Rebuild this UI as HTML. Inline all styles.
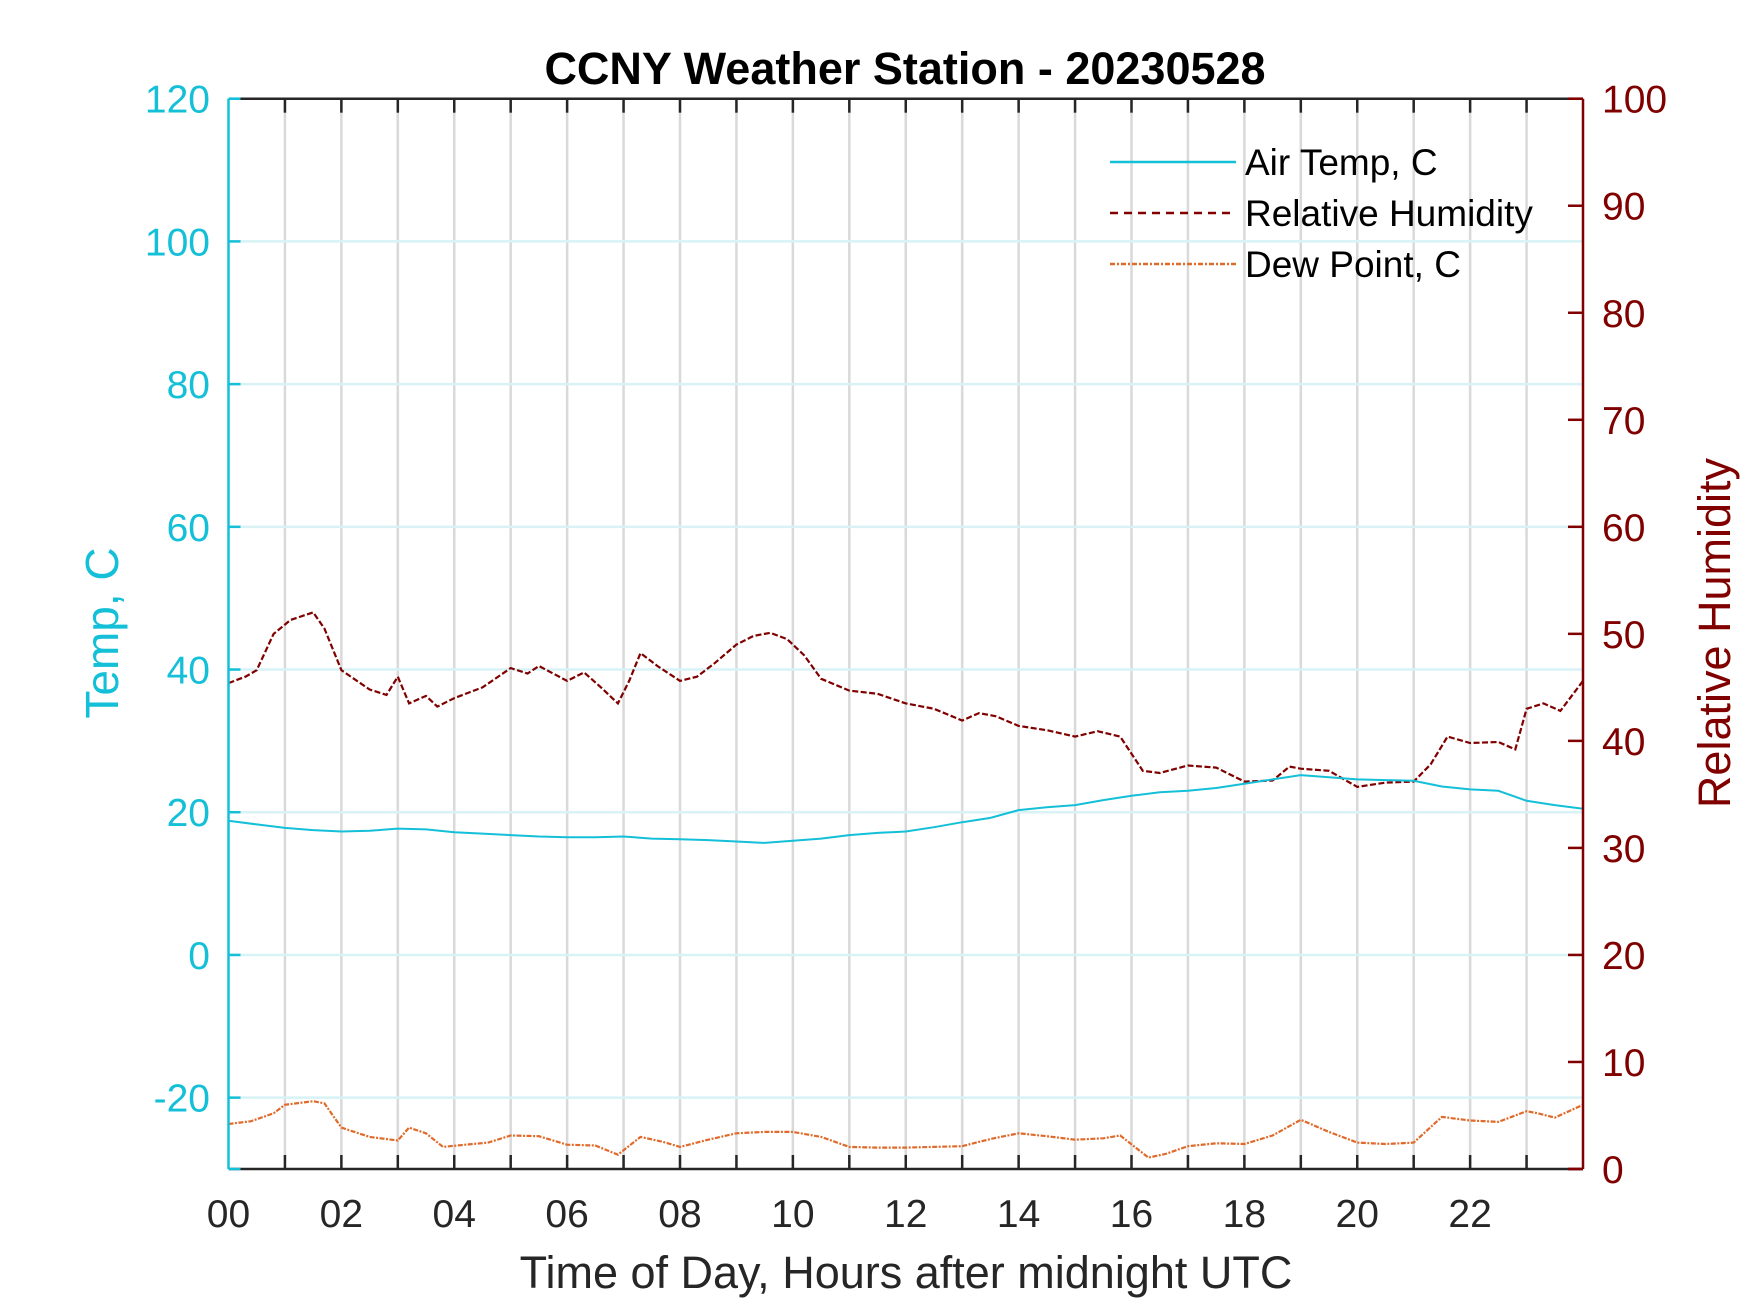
<!DOCTYPE html>
<html><head><meta charset="utf-8"><style>
html,body{margin:0;padding:0;background:#fff;}
svg{display:block;font-family:"Liberation Sans",Arial,sans-serif;}
</style></head><body>
<svg id="chart" width="1750" height="1313" viewBox="0 0 1750 1313">
<rect width="1750" height="1313" fill="#fff"/>
<g id="grid"></g>
<g id="series"></g>
<g id="axes"></g>
<text x="905" y="84" text-anchor="middle" font-size="45" font-weight="bold" fill="#000">CCNY Weather Station - 20230528</text>
<text x="906" y="1288" text-anchor="middle" font-size="45" fill="#262626">Time of Day, Hours after midnight UTC</text>
<text transform="translate(118,633) rotate(-90)" text-anchor="middle" font-size="46" fill="#14bfd8">Temp, C</text>
<text transform="translate(1730,633) rotate(-90)" text-anchor="middle" font-size="45" fill="#800000">Relative Humidity</text>
<g>
<line x1="1110" y1="162" x2="1236" y2="162" stroke="#14bfd8" stroke-width="2.5"/>
<text x="1245" y="175" font-size="37" fill="#000">Air Temp, C</text>
<line x1="1110" y1="213" x2="1236" y2="213" stroke="#800000" stroke-width="2.5" stroke-dasharray="8,6"/>
<text x="1245" y="226" font-size="37" fill="#000">Relative Humidity</text>
<line x1="1110" y1="264" x2="1236" y2="264" stroke="#e06a2a" stroke-width="2.5" stroke-dasharray="5,2,2,2"/>
<text x="1245" y="277" font-size="37" fill="#000">Dew Point, C</text>
</g>
</svg>
<script>
const tempHours = [0,0.5,1,1.5,2,2.5,3,3.5,4,4.5,5,5.5,6,6.5,7,7.5,8,8.5,9,9.5,10,10.5,11,11.5,12,12.5,13,13.5,14,14.5,15,15.5,16,16.5,17,17.5,18,18.5,19,19.5,20,20.5,21,21.5,22,22.5,23,23.5,24];
const airTemp = [18.8,18.3,17.8,17.5,17.3,17.4,17.7,17.6,17.2,17.0,16.8,16.6,16.5,16.5,16.6,16.3,16.2,16.1,15.9,15.7,16.0,16.3,16.8,17.1,17.3,17.9,18.6,19.2,20.3,20.7,21.0,21.7,22.3,22.8,23.0,23.4,24.0,24.6,25.2,24.9,24.6,24.5,24.4,23.6,23.2,23.0,21.6,21.0,20.5];
const rhHours = [0,0.3,0.5,0.8,1.1,1.5,1.7,2,2.5,2.8,3,3.2,3.5,3.7,4,4.5,5,5.3,5.5,6,6.3,6.6,6.9,7.1,7.3,7.6,8,8.3,8.6,9,9.3,9.6,9.9,10.2,10.5,11,11.5,12,12.5,13,13.3,13.6,14,14.5,15,15.4,15.8,16.2,16.5,17,17.5,18,18.5,18.8,19,19.5,19.8,20,20.5,21,21.3,21.6,22,22.5,22.8,23,23.3,23.6,24];
const relHumidity = [45.4,46.0,46.6,50.0,51.3,52.0,50.5,46.6,44.8,44.3,46.0,43.5,44.2,43.2,44.0,45.0,46.8,46.3,47.0,45.6,46.4,45.0,43.5,45.6,48.2,47.0,45.6,46.0,47.2,49.0,49.8,50.1,49.5,48.0,45.8,44.7,44.4,43.5,43.0,41.9,42.6,42.3,41.4,41.0,40.4,40.9,40.4,37.2,37.0,37.7,37.5,36.2,36.3,37.6,37.4,37.2,36.3,35.7,36.1,36.2,37.8,40.4,39.8,39.9,39.2,43.0,43.5,42.8,45.6];
const dewHours = [0,0.4,0.8,1,1.5,1.7,2,2.5,3,3.2,3.5,3.8,4.2,4.6,5,5.5,6,6.5,6.9,7.3,7.7,8,8.5,9,9.5,10,10.5,11,11.5,12,12.5,13,13.5,14,14.5,15,15.5,15.8,16.3,16.6,17,17.5,18,18.5,19,19.5,20,20.5,21,21.5,22,22.5,23,23.2,23.5,24];
const dewPoint = [-23.7,-23.3,-22.2,-21.0,-20.5,-20.8,-24.2,-25.5,-26.0,-24.2,-25.0,-26.9,-26.6,-26.3,-25.3,-25.4,-26.6,-26.7,-28.0,-25.5,-26.2,-26.9,-25.9,-25.0,-24.8,-24.8,-25.5,-26.9,-27.0,-27.0,-26.9,-26.8,-25.8,-25.0,-25.4,-25.9,-25.7,-25.3,-28.4,-27.9,-26.8,-26.4,-26.5,-25.3,-23.1,-24.8,-26.3,-26.5,-26.3,-22.7,-23.2,-23.4,-21.9,-22.2,-22.8,-21.0];
const xTickLabels = ["00","02","04","06","08","10","12","14","16","18","20","22"];
const leftTicks = [-20,0,20,40,60,80,100,120];
const rightTicks = [0,10,20,30,40,50,60,70,80,90,100];

const L=228.5,R=1583,T=98.7,B=1169;
const xS=h=>L+(R-L)*h/24;
const yT=v=>T+(120-v)*(B-T)/150;
const yR=v=>B-(B-T)*v/100;
const NS="http://www.w3.org/2000/svg";
function mk(parent,tag,attrs){const e=document.createElementNS(NS,tag);for(const k in attrs)e.setAttribute(k,attrs[k]);document.getElementById(parent).appendChild(e);return e;}

for(let h=1;h<24;h++){
  const g=mk('grid','line',{x1:xS(h),x2:xS(h),y1:T,y2:B,stroke:'#d9d9d9','stroke-width':2.5});
  
  
}
leftTicks.forEach(v=>{
  if(v===120)return;
  const g=mk('grid','line',{x1:L,x2:R,y1:yT(v),y2:yT(v),stroke:'#d8f2f6','stroke-width':2.5});
  
  
});

function poly(xs,ys,xf,yf,color,dash,name,w){
  const pts=xs.map((x,i)=>xf(x).toFixed(1)+','+yf(ys[i]).toFixed(1)).join(' ');
  const p=mk('series','polyline',{points:pts,fill:'none',stroke:color,'stroke-width':w});
  if(dash)p.setAttribute('stroke-dasharray',dash);
  
  
}
poly(dewHours,dewPoint,xS,yT,'#e06a2a','5,1.5,2,1.5','dew-point-line',2.2);
poly(rhHours,relHumidity,xS,yR,'#800000','6,2.5','relative-humidity-line',2.2);
poly(tempHours,airTemp,xS,yT,'#14bfd8',null,'air-temp-line',2);

let a;
a=mk('axes','line',{x1:L,x2:R,y1:T,y2:T,stroke:'#262626','stroke-width':2.5});

a=mk('axes','line',{x1:L,x2:R,y1:B,y2:B,stroke:'#262626','stroke-width':2.5});

a=mk('axes','line',{x1:L,x2:L,y1:T,y2:B,stroke:'#14bfd8','stroke-width':2.5});

a=mk('axes','line',{x1:R,x2:R,y1:T,y2:B,stroke:'#800000','stroke-width':2.5});

mk('axes','line',{x1:R-15,x2:R,y1:B,y2:B,stroke:'#800000','stroke-width':2.5});
mk('axes','line',{x1:R-15,x2:R,y1:T,y2:T,stroke:'#800000','stroke-width':2.5});
mk('axes','line',{x1:L,x2:L+12,y1:T,y2:T,stroke:'#14bfd8','stroke-width':2.5});
mk('axes','line',{x1:L,x2:L+12,y1:B,y2:B,stroke:'#14bfd8','stroke-width':2.5});
for(let h=1;h<24;h++){
  mk('axes','line',{x1:xS(h),x2:xS(h),y1:B,y2:B-14,stroke:'#262626','stroke-width':2.5});
  mk('axes','line',{x1:xS(h),x2:xS(h),y1:T,y2:T+14,stroke:'#262626','stroke-width':2.5});
}
xTickLabels.forEach((s,i)=>{
  const t=mk('axes','text',{x:xS(i*2),y:1227,'text-anchor':'middle','font-size':39,fill:'#262626'});
  t.textContent=s;
  
  
});
leftTicks.forEach(v=>{
  mk('axes','line',{x1:L,x2:L+12,y1:yT(v),y2:yT(v),stroke:'#14bfd8','stroke-width':2.5});
  const t=mk('axes','text',{x:210,y:yT(v)+14,'text-anchor':'end','font-size':39,fill:'#14bfd8'});
  t.textContent=v;
  
  
});
rightTicks.forEach(v=>{
  mk('axes','line',{x1:R-15,x2:R,y1:yR(v),y2:yR(v),stroke:'#800000','stroke-width':2.5});
  const t=mk('axes','text',{x:1602,y:yR(v)+14,'text-anchor':'start','font-size':39,fill:'#800000'});
  t.textContent=v;
  
  
});
</script>
</body></html>
